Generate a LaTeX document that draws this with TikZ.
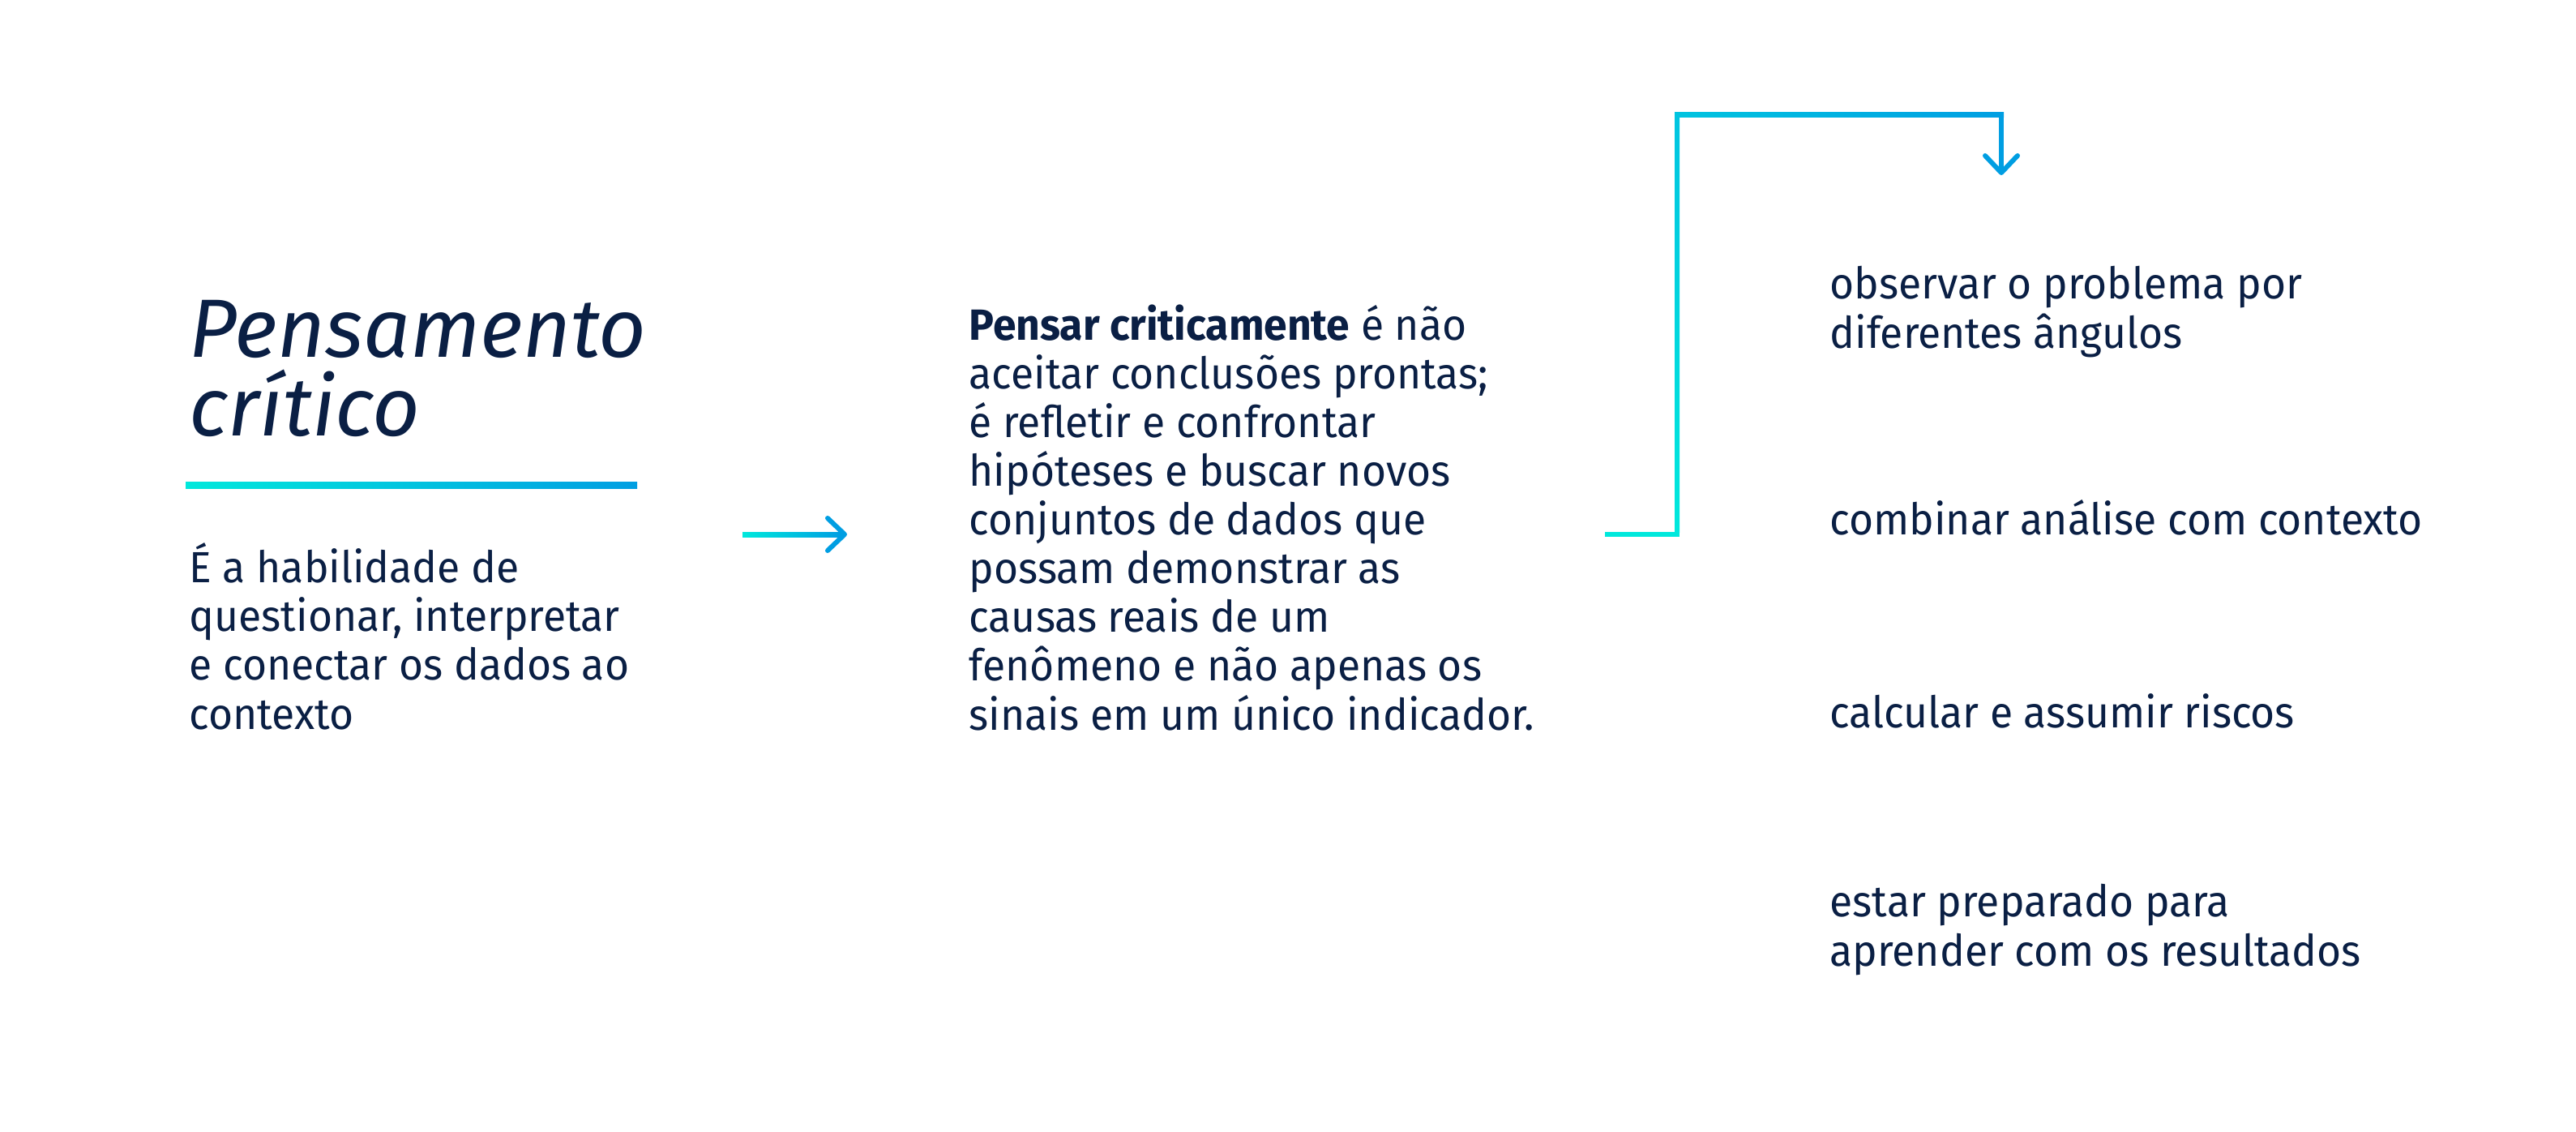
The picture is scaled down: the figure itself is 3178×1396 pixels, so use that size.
\documentclass[tikz,border=0pt]{standalone}
\usepackage{fontspec}
\setmainfont{Fira Sans}
\newfontfamily\narrowfont[FakeStretch=0.96]{Fira Sans}
\usetikzlibrary{calc}
\definecolor{DeepNavy}{HTML}{0A1F44}
\definecolor{BrightCyan}{HTML}{00E8DC}
\definecolor{MidCyan}{HTML}{00C4E0}
\definecolor{SkyBlue}{HTML}{009EE2}
\tikzset{
    % Text styles (anchored at the baseline of the last line)
    headline/.style={
        anchor=base west,
        inner sep=0pt,
        align=left,
        text=DeepNavy,
        font=\fontsize{29}{27.5}\selectfont\itshape
    },
    bodytext/.style={
        anchor=base west,
        inner sep=0pt,
        align=left,
        text=DeepNavy,
        font=\narrowfont\fontsize{15.3}{17.1}\selectfont
    },
    % Arrow head
    tipline/.style={
        draw=SkyBlue,
        line width=0.6mm,
        line cap=round,
        line join=round
    }
}
\begin{document}
\begin{tikzpicture}[x=0.1mm, y=-0.1mm]
            \useasboundingbox (0,0) rectangle (3178,1396);

            % Title and definition
            \node[headline] (title) at (233,537) {Pensamento\\crítico};
            \shade[left color=BrightCyan, right color=SkyBlue] (229,594) rectangle (786,602);
            \node[bodytext] (defn) at (233,899) {É a habilidade de\\questionar, interpretar\\e conectar os dados ao\\contexto};

            % Arrow to the explanation
            \coordinate (a1from) at (916,659);
            \coordinate (a1to) at (1042,659);
            \shade[left color=BrightCyan, right color=SkyBlue] ($(a1from)+(0,-3)$) rectangle ($(a1to)+(-4,3)$);
            \draw[tipline] ($(a1to)+(-21,-20)$) -- (a1to) -- ($(a1to)+(-21,20)$);

            % Explanation
            \node[bodytext] (expl) at (1195,900) {\textbf{Pensar criticamente} é não\\aceitar conclusões prontas;\\é refletir e confrontar\\hipóteses e buscar novos\\conjuntos de dados que\\possam demonstrar as\\causas reais de um\\fenômeno e não apenas os\\sinais em um único indicador.};

            % Bent connector
            \coordinate (k0) at (1980,659);
            \coordinate (k1) at (2069,659);
            \coordinate (k2) at (2069,142);
            \coordinate (k3) at (2469,142);
            \coordinate (k4) at (2469,213);
            \fill[BrightCyan] ($(k0)+(0,-3)$) rectangle ($(k1)+(3,3)$);
            \shade[top color=MidCyan, bottom color=BrightCyan] ($(k2)+(-3,-3)$) rectangle ($(k1)+(3,-3)$);
            \shade[left color=MidCyan, right color=SkyBlue] ($(k2)+(-3,-3)$) rectangle ($(k3)+(3,3)$);
            \fill[SkyBlue] ($(k3)+(-3,-3)$) rectangle ($(k4)+(3,-4)$);
            \draw[tipline] ($(k4)+(-20,-21)$) -- (k4) -- ($(k4)+(20,-21)$);

            % Steps
            \node[bodytext] (s1) at (2257,429) {observar o problema por\\diferentes ângulos};
            \node[bodytext] (s2) at (2257,659) {combinar análise com contexto};
            \node[bodytext] (s3) at (2257,897) {calcular e assumir riscos};
            \node[bodytext] (s4) at (2257,1191) {estar preparado para\\aprender com os resultados};
\end{tikzpicture}
\end{document}
